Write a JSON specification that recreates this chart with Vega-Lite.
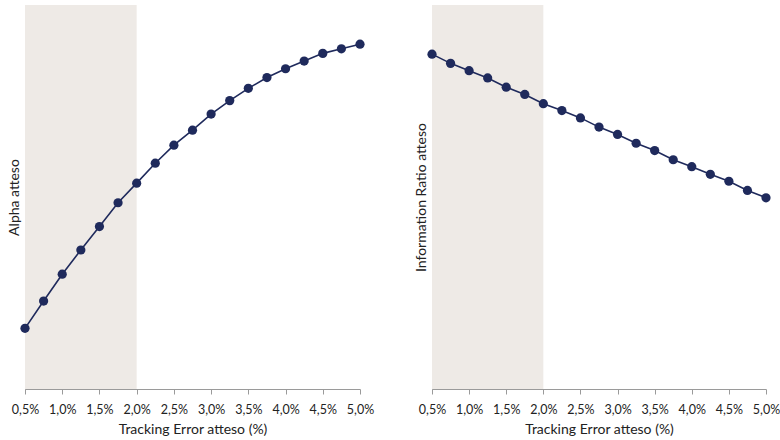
{
  "$schema": "https://vega.github.io/schema/vega-lite/v6.json",
  "padding": {"left": 7, "top": 5, "right": 0, "bottom": 5},
  "background": "white",
  "config": {
    "view": {"stroke": null},
    "font": "Lato",
    "locale": {"number": {"decimal": ",", "thousands": ".", "grouping": [3], "currency": ["", " €"]}},
    "concat": {"spacing": 40},
    "axis": {
      "grid": false,
      "domainColor": "#9a9a9a",
      "tickColor": "#9a9a9a",
      "labelColor": "#222222",
      "titleColor": "#222222",
      "labelFont": "Lato",
      "titleFont": "Lato",
      "labelFontSize": 12.5,
      "titleFontSize": 14,
      "titleFontWeight": "normal"
    }
  },
  "datasets": {
    "te": [
      {"te": 0.005, "alpha": 15.8, "ir": 87.2},
      {"te": 0.0075, "alpha": 22.9, "ir": 84.8},
      {"te": 0.01, "alpha": 29.9, "ir": 82.9},
      {"te": 0.0125, "alpha": 36.2, "ir": 81.0},
      {"te": 0.015, "alpha": 42.3, "ir": 78.6},
      {"te": 0.0175, "alpha": 48.5, "ir": 76.7},
      {"te": 0.02, "alpha": 53.6, "ir": 74.3},
      {"te": 0.0225, "alpha": 58.8, "ir": 72.5},
      {"te": 0.025, "alpha": 63.5, "ir": 70.6},
      {"te": 0.0275, "alpha": 67.4, "ir": 68.2},
      {"te": 0.03, "alpha": 71.6, "ir": 66.3},
      {"te": 0.0325, "alpha": 75.1, "ir": 64.0},
      {"te": 0.035, "alpha": 78.3, "ir": 62.1},
      {"te": 0.0375, "alpha": 81.1, "ir": 59.7},
      {"te": 0.04, "alpha": 83.4, "ir": 57.9},
      {"te": 0.0425, "alpha": 85.4, "ir": 55.9},
      {"te": 0.045, "alpha": 87.4, "ir": 54.1},
      {"te": 0.0475, "alpha": 88.6, "ir": 51.7},
      {"te": 0.05, "alpha": 89.8, "ir": 49.8}
    ],
    "band": [
      {"from": 0.005, "to": 0.02}
    ]
  },
  "hconcat": [
    {
      "width": 335,
      "height": 384,
      "resolve": {"axis": {"x": "independent"}},
      "layer": [
        {
          "data": {"name": "band"},
          "mark": {"type": "rect", "color": "#eeeae6"},
          "encoding": {
            "x": {
              "field": "from", "type": "quantitative",
              "scale": {"domain": [0.005, 0.05], "nice": false, "zero": false},
              "axis": {
                "orient": "bottom",
                "values": [0.005, 0.01, 0.015, 0.02, 0.025, 0.03, 0.035, 0.04, 0.045, 0.05],
                "format": ".1%",
                "labelExpr": "indexof(['0,5%', '1,5%', '2,5%', '3,5%', '4,5%'], datum.label) >= 0 ? datum.label : ''",
                "labelFlush": false,
                "labelBound": false,
                "title": "Tracking Error atteso (%)",
                "tickSize": 5,
                "labelPadding": 9,
                "titlePadding": 7
              }
            },
            "x2": {"field": "to"}
          }
        },
        {
          "data": {"name": "te"},
          "mark": {"type": "line", "color": "#1f2a5c", "strokeWidth": 1.6},
          "encoding": {
            "x": {
              "field": "te", "type": "quantitative",
              "axis": {
                "orient": "bottom",
                "values": [0.01, 0.02, 0.03, 0.04, 0.05],
                "format": ".1%",
                "labelFlush": false,
                "labelBound": false,
                "domain": false,
                "tickOpacity": 0,
                "tickSize": 5,
                "labelPadding": 9,
                "title": null
              }
            },
            "y": {
              "field": "alpha", "type": "quantitative",
              "scale": {"domain": [0, 100], "nice": false},
              "axis": {"labels": false, "ticks": false, "title": "Alpha atteso", "titlePadding": 4}
            }
          }
        },
        {
          "data": {"name": "te"},
          "mark": {"type": "point", "filled": true, "opacity": 1, "size": 85, "color": "#1f2a5c"},
          "encoding": {
            "x": {"field": "te", "type": "quantitative", "axis": null},
            "y": {"field": "alpha", "type": "quantitative"}
          }
        }
      ]
    },
    {
      "width": 334,
      "height": 384,
      "resolve": {"axis": {"x": "independent"}},
      "layer": [
        {
          "data": {"name": "band"},
          "mark": {"type": "rect", "color": "#eeeae6"},
          "encoding": {
            "x": {
              "field": "from", "type": "quantitative",
              "scale": {"domain": [0.005, 0.05], "nice": false, "zero": false},
              "axis": {
                "orient": "bottom",
                "values": [0.005, 0.01, 0.015, 0.02, 0.025, 0.03, 0.035, 0.04, 0.045, 0.05],
                "format": ".1%",
                "labelExpr": "indexof(['0,5%', '1,5%', '2,5%', '3,5%', '4,5%'], datum.label) >= 0 ? datum.label : ''",
                "labelFlush": false,
                "labelBound": false,
                "title": "Tracking Error atteso (%)",
                "tickSize": 5,
                "labelPadding": 9,
                "titlePadding": 7
              }
            },
            "x2": {"field": "to"}
          }
        },
        {
          "data": {"name": "te"},
          "mark": {"type": "line", "color": "#1f2a5c", "strokeWidth": 1.6},
          "encoding": {
            "x": {
              "field": "te", "type": "quantitative",
              "axis": {
                "orient": "bottom",
                "values": [0.01, 0.02, 0.03, 0.04, 0.05],
                "format": ".1%",
                "labelFlush": false,
                "labelBound": false,
                "domain": false,
                "tickOpacity": 0,
                "tickSize": 5,
                "labelPadding": 9,
                "title": null
              }
            },
            "y": {
              "field": "ir", "type": "quantitative",
              "scale": {"domain": [0, 100], "nice": false},
              "axis": {"labels": false, "ticks": false, "title": "Information Ratio atteso", "titlePadding": 4}
            }
          }
        },
        {
          "data": {"name": "te"},
          "mark": {"type": "point", "filled": true, "opacity": 1, "size": 85, "color": "#1f2a5c"},
          "encoding": {
            "x": {"field": "te", "type": "quantitative", "axis": null},
            "y": {"field": "ir", "type": "quantitative"}
          }
        }
      ]
    }
  ]
}
